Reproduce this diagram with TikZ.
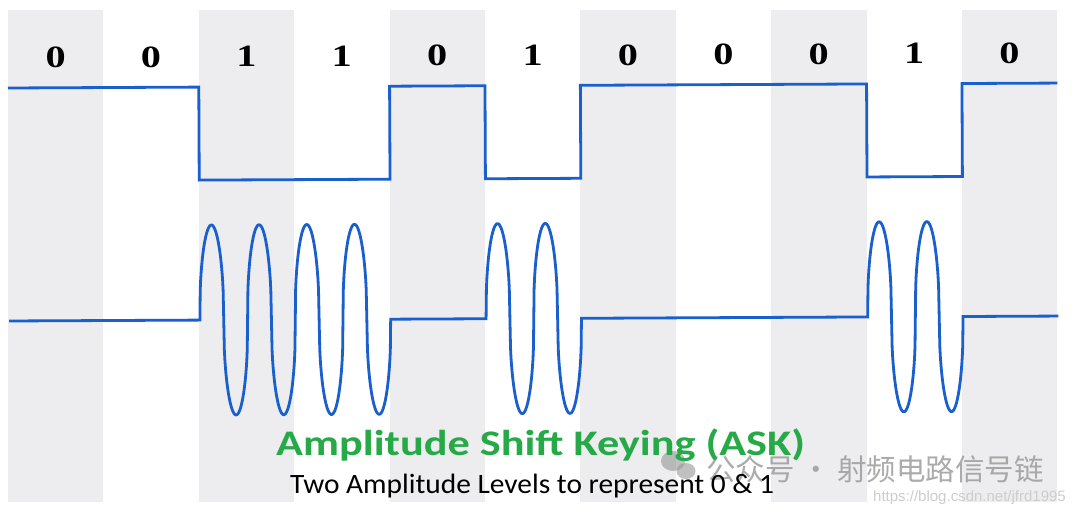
\documentclass[tikz,border=0pt]{standalone}
\usepackage{fontspec}
\newfontfamily\carlito{Carlito}
\newfontfamily\serifb{Liberation Serif}
\newfontfamily\arialf{Liberation Sans}
\newfontfamily\cjk{Noto Sans CJK SC}
\definecolor{sigblue}{RGB}{25,95,205}
\definecolor{stripe}{RGB}{237,237,239}
\definecolor{titlegreen}{RGB}{38,170,72}
\definecolor{wmgray}{RGB}{150,150,150}
\definecolor{urlgray}{RGB}{205,205,205}
\tikzset{
  stripebox/.style={fill=stripe, draw=none},
  wave/.style={draw=sigblue, line width=2.8pt, line join=miter},
  bitlabel/.style={font=\serifb\bfseries\fontsize{31}{31}\selectfont, anchor=base, inner sep=0pt, xscale=1.3},
  declare function={lobe(\a)=(abs(sin(\a))<0.003 ? 0 : (sin(\a)>=0 ? 1 : -1)*pow(abs(sin(\a)),0.42));},
}
\begin{document}
\begin{tikzpicture}[x=1pt,y=-1pt]
\useasboundingbox (0,0) rectangle (1080,513);
\fill[white] (0,0) rectangle (1080,513);
% stripes on even bits
\foreach \k in {0,2,4,6,8,10}{
  \path[stripebox] ({8+95.4*\k},10) rectangle ({8+95.4*(\k+1)},502);
}
\begin{scope}[rotate around={0.27:(8,88)}]
% bit labels
\foreach \b [count=\i from 0] in {0,0,1,1,0,1,0,0,0,1,0}{
  \node[bitlabel] (bit\i) at ({8+95.4*(\i+0.5)},68) {\b};
}
% data signal
\path[wave] (8,88) -- (198.8,88) -- (198.8,181) -- (389.6,181) -- (389.6,88)
  -- (485,88) -- (485,181) -- (580.4,181) -- (580.4,88) -- (866.6,88)
  -- (866.6,181) -- (962,181) -- (962,88) -- (1057.4,88);
% ASK signal
\path[wave] (8,321) -- (198.8,321)
  -- plot[domain=0:190.8, samples=401] ({198.8+\x},{321-95*lobe(7.5472*\x)})
  -- (389.6,321) -- (485,321)
  -- plot[domain=0:95.4, samples=201] ({485+\x},{321-95*lobe(7.5472*\x)})
  -- (580.4,321) -- (866.6,321)
  -- plot[domain=0:95.4, samples=201] ({866.6+\x},{321-95*lobe(7.5472*\x)})
  -- (962,321) -- (1057.4,321);
\end{scope}
% watermark
\fill[wmgray, opacity=0.6] (673,461) ellipse (12pt and 10pt);
\fill[wmgray, opacity=0.6] (686,471) ellipse (9.5pt and 8pt);
\node[anchor=west, inner sep=0pt, text=wmgray, opacity=0.8, font=\cjk\fontsize{29.5}{29.5}\selectfont] (wm) at (706,469) {公众号 · 射频电路信号链};
\node[anchor=base west, inner sep=0pt, text=urlgray, font=\arialf\fontsize{15}{15}\selectfont] (url) at (873,501) {https://blog.csdn.net/jfrd1995};
% titles
\node[anchor=base west, inner sep=0pt, text=titlegreen, xscale=1.23, font=\carlito\bfseries\fontsize{36}{36}\selectfont] (title) at (276,455) {Amplitude Shift Keying (ASK)};
\node[anchor=base west, inner sep=0pt, text=black, xscale=1.05, font=\carlito\fontsize{28}{28}\selectfont] (subtitle) at (290,493) {Two Amplitude Levels to represent 0 \& 1};
\end{tikzpicture}
\end{document}
